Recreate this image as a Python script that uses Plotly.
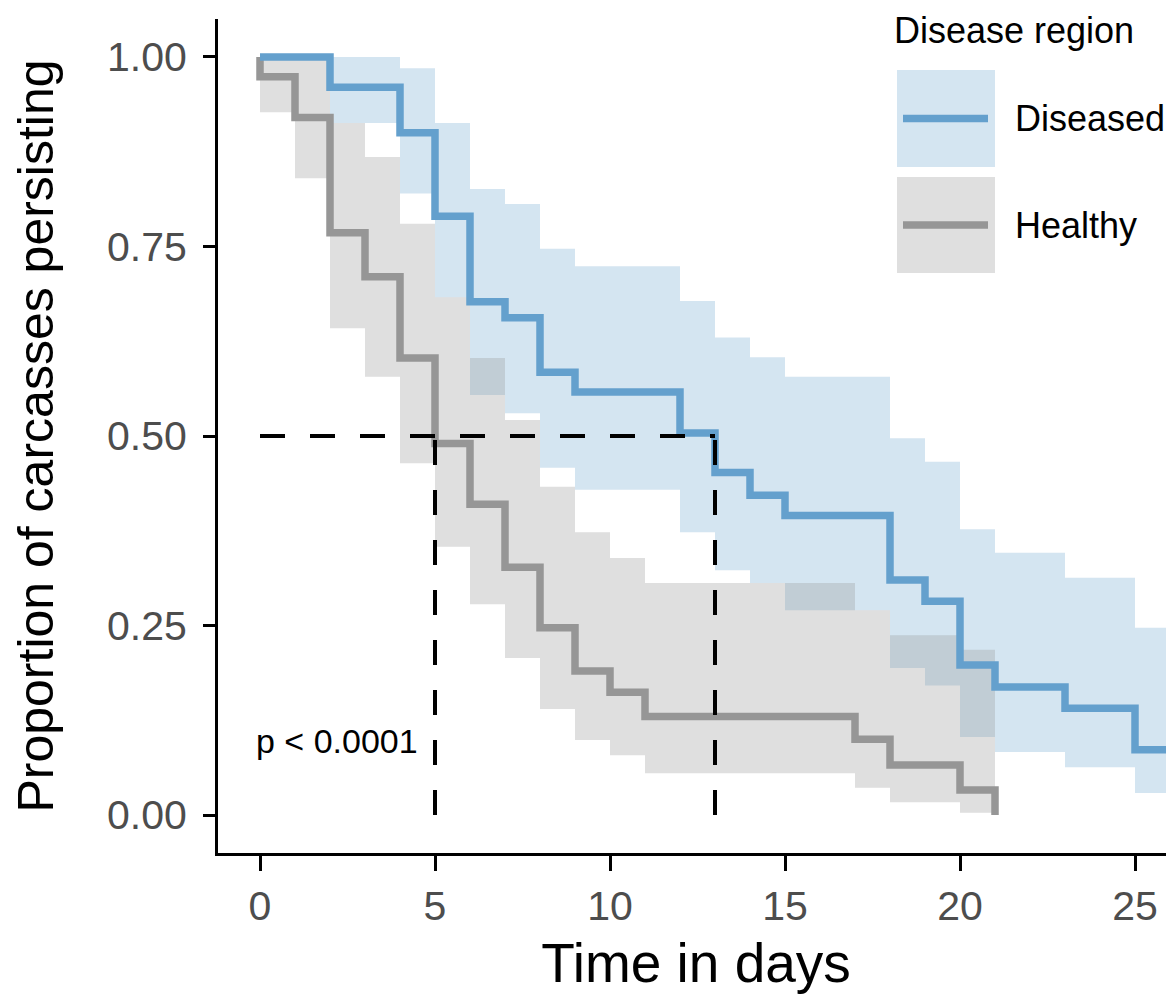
import plotly.graph_objects as go

# ---------------- data ----------------
# Diseased: Kaplan-Meier step curve and 95% CI
dis_time = [0, 2, 4, 5, 6, 7, 8, 9, 12, 13, 14, 15, 18, 19, 20, 21, 23, 25, 26]
dis_surv = [1.0, 0.96, 0.90, 0.79, 0.677, 0.656, 0.584, 0.558, 0.504, 0.452, 0.422,
            0.395, 0.31, 0.282, 0.198, 0.169, 0.141, 0.086, 0.029]
dis_upper = [1.0, 1.0, 0.985, 0.913, 0.826, 0.806, 0.747, 0.724, 0.678, 0.63, 0.604,
             0.578, 0.497, 0.466, 0.377, 0.346, 0.313, 0.247, 0.194]
dis_lower = [1.0, 0.913, 0.82, 0.683, 0.554, 0.53, 0.458, 0.429, 0.373, 0.323, 0.306,
             0.27, 0.194, 0.171, 0.103, 0.083, 0.063, 0.029, 0.003]
dis_end = 26.6

# Healthy: Kaplan-Meier step curve and 95% CI
hea_time = [0, 0, 1, 2, 3, 4, 5, 6, 7, 8, 9, 10, 11, 17, 18, 20, 21]
hea_surv = [1.0, 0.974, 0.92, 0.768, 0.71, 0.603, 0.49, 0.41, 0.327, 0.247, 0.19,
            0.162, 0.13, 0.10, 0.066, 0.033, 0.0]
hea_band_time = [0, 1, 2, 3, 4, 5, 6, 7, 8, 9, 10, 11, 17, 18, 20]
hea_upper = [1.0, 1.0, 0.913, 0.868, 0.78, 0.683, 0.603, 0.521, 0.433, 0.373, 0.339,
             0.306, 0.27, 0.237, 0.218]
hea_lower = [0.927, 0.84, 0.642, 0.578, 0.464, 0.354, 0.278, 0.207, 0.14, 0.099, 0.079,
             0.055, 0.036, 0.017, 0.003]
hea_end = 21

median_times = [5, 13]
median_level = 0.5
p_text = "p < 0.0001"

x_ticks = [0, 5, 10, 15, 20, 25]
y_ticks = [0.0, 0.25, 0.5, 0.75, 1.0]

groups = ["Diseased", "Healthy"]

# ---------------- styles ----------------
BLUE = "rgb(100,160,205)"
BLUE_FILL = "rgba(100,160,205,0.28)"
GRAY = "rgb(150,150,150)"
GRAY_FILL = "rgba(150,150,150,0.30)"
FONT = "Liberation Sans, Arial, sans-serif"

OFF = 8                      # default page body margin
W, H = 1166, 986
L, R, T, B = 210, 0, 11, 141
PW, PH = W - L - R, H - T - B

fig = go.Figure()


def add_band(times, upper, lower, end, fill):
    xs = list(times) + [end]
    lo = list(lower) + [lower[-1]]
    up = list(upper) + [upper[-1]]
    fig.add_trace(go.Scatter(x=xs, y=lo, mode="lines", line=dict(width=0, shape="hv"),
                             showlegend=False, hoverinfo="skip"))
    fig.add_trace(go.Scatter(x=xs, y=up, mode="lines", line=dict(width=0, shape="hv"),
                             fill="tonexty", fillcolor=fill, showlegend=False,
                             hoverinfo="skip"))


add_band(dis_time, dis_upper, dis_lower, dis_end, BLUE_FILL)
add_band(hea_band_time, hea_upper, hea_lower, hea_end, GRAY_FILL)

# survival lines
fig.add_trace(go.Scatter(x=hea_time, y=hea_surv, mode="lines",
                         line=dict(color=GRAY, width=7.5, shape="hv"),
                         name=groups[1], showlegend=False))
fig.add_trace(go.Scatter(x=list(dis_time) + [dis_end], y=list(dis_surv) + [dis_surv[-1]],
                         mode="lines", line=dict(color=BLUE, width=7.5, shape="hv"),
                         name=groups[0], showlegend=False))

# median dashed lines
DASH = "25px,25px"
fig.add_trace(go.Scatter(x=[0, max(median_times)], y=[median_level, median_level],
                         mode="lines", line=dict(color="black", width=4, dash=DASH),
                         showlegend=False, hoverinfo="skip"))
for mt in median_times:
    fig.add_trace(go.Scatter(x=[mt, mt], y=[0, median_level], mode="lines",
                             line=dict(color="black", width=4, dash=DASH),
                             showlegend=False, hoverinfo="skip"))

# p-value
fig.add_annotation(x=2.2, y=0.097, text=p_text, showarrow=False,
                   font=dict(family=FONT, size=34, color="black"))


# ---------------- custom legend (screen pixel positions -> paper) ----------------
def px(x):
    return (x - OFF - L) / PW


def py(y):
    return (H - B - (y - OFF)) / PH


fig.add_annotation(x=px(892), y=py(30), xref="paper", yref="paper", text="Disease region",
                   showarrow=False, xanchor="left", yanchor="middle",
                   font=dict(family=FONT, size=36, color="black"))
legend_items = [(groups[0], BLUE, BLUE_FILL, 70, 167), (groups[1], GRAY, GRAY_FILL, 177, 273)]
for name, lc, fc, y0, y1 in legend_items:
    fig.add_shape(type="rect", xref="paper", yref="paper", x0=px(897), x1=px(995),
                  y0=py(y1), y1=py(y0), fillcolor=fc, line=dict(width=0), layer="above")
    ym = (y0 + y1) / 2
    fig.add_shape(type="line", xref="paper", yref="paper", x0=px(903), x1=px(988),
                  y0=py(ym), y1=py(ym), line=dict(color=lc, width=7.5), layer="above")
    fig.add_annotation(x=px(1013), y=py(ym), xref="paper", yref="paper", text=name,
                       showarrow=False, xanchor="left", yanchor="middle",
                       font=dict(family=FONT, size=36, color="black"))

# ---------------- layout ----------------
fig.update_layout(
    width=W, height=H,
    margin=dict(l=L, r=R, t=T, b=B, pad=0, autoexpand=False),
    paper_bgcolor="white", plot_bgcolor="white",
    font=dict(family=FONT),
    showlegend=False,
)
fig.update_xaxes(
    range=[-42 / 35, (PW - 42) / 35], tickvals=x_ticks,
    showgrid=False, zeroline=False, automargin=False,
    showline=True, linecolor="black", linewidth=3,
    ticks="outside", ticklen=15, tickwidth=3, tickcolor="black",
    ticklabelstandoff=0,
    tickfont=dict(family=FONT, size=41, color="#4d4d4d"),
    title=dict(text="Time in days", font=dict(family=FONT, size=55, color="black"), standoff=30),
)
fig.update_yaxes(
    range=[-0.0501, 1.0501], tickvals=y_ticks, tickformat=".2f",
    showgrid=False, zeroline=False, automargin=False,
    showline=True, linecolor="black", linewidth=3,
    ticks="outside", ticklen=12, tickwidth=3, tickcolor="black",
    ticklabelstandoff=8,
    tickfont=dict(family=FONT, size=41, color="#4d4d4d"),
    title=dict(text="Proportion of carcasses persisting",
               font=dict(family=FONT, size=50, color="black"), standoff=58),
)

fig.write_html("out.html")
